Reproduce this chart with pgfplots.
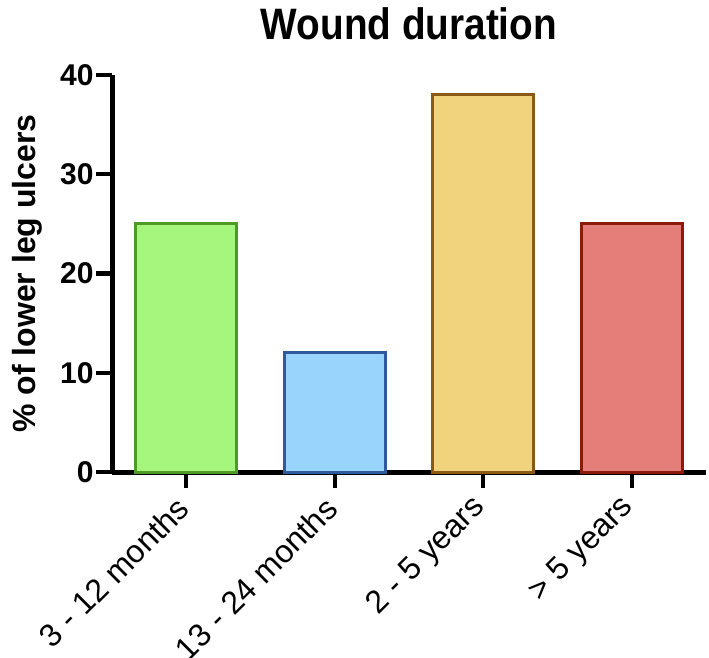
\documentclass[border=0pt]{standalone}
\usepackage{fontspec}
\setmainfont{Liberation Sans}
\newfontfamily\titlefont{Liberation Sans}[FakeStretch=0.88]
\usepackage{pgfplots}
\pgfplotsset{compat=1.18}
\definecolor{gfill}{HTML}{A6F57D}
\definecolor{gdraw}{HTML}{4F9A25}
\definecolor{bfill}{HTML}{99D4FD}
\definecolor{bdraw}{HTML}{2F5B9C}
\definecolor{yfill}{HTML}{F1D37E}
\definecolor{ydraw}{HTML}{8A5A12}
\definecolor{rfill}{HTML}{E57E79}
\definecolor{rdraw}{HTML}{8B1A0B}
\begin{document}
\begin{tikzpicture}
\begin{axis}[
  scale only axis, width=297pt, height=198.5pt,
  xmin=-0.5, xmax=3.5, ymin=0, ymax=40,
  axis x line=bottom, axis y line=left,
  axis line style={line width=2.5pt, -},
  ytick={0,10,20,30,40},
  xtick={0,1,2,3},
  xticklabels={3 - 12 months, 13 - 24 months, 2 - 5 years, {> 5 years}},
  tick style={line width=2.2pt, black},
  major tick length=8pt, tick align=outside,
  /pgf/number format/assume math mode=true,
  yticklabel style={font=\bfseries\fontsize{15}{15}\selectfont, inner sep=1pt},
  xticklabel style={font=\fontsize{16}{16}\selectfont, rotate=45, anchor=east, inner sep=2pt, xshift=-4.2pt, yshift=-4.2pt},
  ylabel={\% of lower leg ulcers},
  ylabel style={font=\bfseries\fontsize{16}{16}\selectfont, at={(axis description cs:0,0.5)}, yshift=42.5pt, anchor=center},
  title={Wound duration},
  title style={font=\titlefont\bfseries\fontsize{22}{22}\selectfont, at={(axis description cs:0.5,1)}, anchor=base, yshift=11.5pt},
  ybar, bar width=0.68, bar shift=0pt,
  clip=false,
]
\addplot[fill=gfill, draw=gdraw, line width=1.5pt] coordinates {(0,25)};
\addplot[fill=bfill, draw=bdraw, line width=1.5pt] coordinates {(1,12)};
\addplot[fill=yfill, draw=ydraw, line width=1.5pt] coordinates {(2,38)};
\addplot[fill=rfill, draw=rdraw, line width=1.5pt] coordinates {(3,25)};
\end{axis}
\pgfresetboundingbox
\path[use as bounding box] ([shift={(-56pt,-92.5pt)}]current axis.south west) rectangle ([shift={(1.5pt,37.5pt)}]current axis.north east);
\end{tikzpicture}
\end{document}
